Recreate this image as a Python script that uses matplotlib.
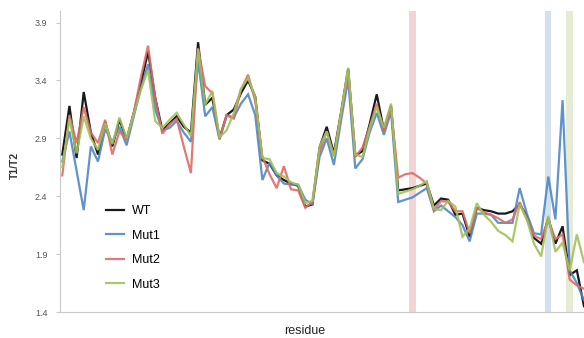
import numpy as np
import matplotlib
matplotlib.use('Agg')
import matplotlib.pyplot as plt

plt.rcParams['font.family'] = ['Liberation Sans', 'DejaVu Sans']

# T1/T2 per residue
wt = [2.76, 3.18, 2.73, 3.30, 2.95, 2.76, 3.04, 2.83, 3.06, 2.89,
      3.12, 3.37, 3.65, 3.25, 2.97, 3.03, 3.09, 3.00, 2.95, 3.73,
      3.19, 3.25, 2.90, 3.10, 3.15, 3.29, 3.40, 3.26, 2.71, 2.68,
      2.58, 2.54, 2.51, 2.49, 2.31, 2.33, 2.82, 3.00, 2.77, 3.12,
      3.50, 2.75, 2.79, 3.02, 3.28, 2.97, 3.18, 2.45, 2.46, 2.47,
      2.49, 2.51, 2.32, 2.38, 2.37, 2.24, 2.25, 2.05, 2.30, 2.28,
      2.27, 2.25, 2.25, 2.27, 2.33, 2.23, 2.04, 1.99, 2.21, 1.99,
      2.14, 1.72, 1.76, 1.45]
mut1 = [2.70, 2.96, 2.62, 2.28, 2.83, 2.70, 2.98, 2.87, 3.00, 2.84,
        3.09, 3.33, 3.54, 3.15, 2.97, 2.99, 3.05, 2.95, 2.87, 3.57,
        3.09, 3.17, 2.89, 3.10, 3.08, 3.20, 3.28, 3.10, 2.54, 2.69,
        2.58, 2.51, 2.50, 2.50, 2.37, 2.33, 2.74, 2.90, 2.67, 3.05,
        3.41, 2.64, 2.72, 2.95, 3.12, 2.93, 3.13, 2.35, 2.37, 2.39,
        2.43, 2.47, 2.27, 2.32, 2.27, 2.22, 2.15, 2.01, 2.25, 2.25,
        2.24, 2.17, 2.17, 2.17, 2.47, 2.25, 2.08, 2.07, 2.57, 2.20,
        3.23, 1.76, 1.65, 1.50]
mut2 = [2.58, 3.10, 2.86, 3.17, 2.95, 2.86, 3.06, 2.76, 2.96, 2.89,
        3.12, 3.43, 3.70, 3.25, 2.94, 3.02, 3.07, 2.83, 2.60, 3.68,
        3.35, 3.29, 2.90, 3.10, 3.07, 3.32, 3.45, 3.22, 2.74, 2.59,
        2.47, 2.66, 2.46, 2.45, 2.30, 2.35, 2.78, 2.96, 2.75, 3.10,
        3.48, 2.74, 2.82, 3.00, 3.20, 2.96, 3.16, 2.56, 2.59, 2.60,
        2.56, 2.51, 2.28, 2.36, 2.35, 2.27, 2.27, 2.08, 2.30, 2.26,
        2.24, 2.21, 2.17, 2.20, 2.35, 2.20, 2.06, 2.03, 2.20, 2.03,
        2.07, 1.68, 1.63, 1.60]
mut3 = [2.65, 3.07, 2.77, 3.09, 2.90, 2.80, 3.03, 2.85, 3.08, 2.90,
        3.11, 3.32, 3.49, 3.05, 2.99, 3.06, 3.12, 3.02, 2.92, 3.67,
        3.19, 3.31, 2.91, 2.97, 3.12, 3.33, 3.42, 3.26, 2.73, 2.72,
        2.60, 2.57, 2.52, 2.50, 2.34, 2.36, 2.83, 2.96, 2.74, 3.12,
        3.51, 2.76, 2.74, 2.98, 3.17, 2.99, 3.20, 2.42, 2.44, 2.46,
        2.49, 2.53, 2.29, 2.28, 2.36, 2.31, 2.05, 2.12, 2.34, 2.24,
        2.18, 2.10, 2.065, 2.01, 2.33, 2.20, 1.99, 1.88, 2.23, 1.92,
        2.00, 1.76, 2.07, 1.83]

series_names = ['WT', 'Mut1', 'Mut2', 'Mut3']
series_colors = ['#000000', '#4f86c6', '#de6b66', '#9fc25a']

# highlighted residues (index) and their band colours
highlight_idx = [49, 68, 71]
highlight_colors = ['#f3d3d3', '#d3e0f0', '#e6ebd6']

yticks = [1.4, 1.9, 2.4, 2.9, 3.4, 3.9]

residue = np.arange(len(wt))

fig = plt.figure(figsize=(5.84, 3.38), dpi=100, facecolor='white')
ax = fig.add_axes([60 / 584, 26 / 338, 524 / 584, 301 / 338])

for idx, c in zip(highlight_idx, highlight_colors):
    ax.axvspan(idx - 0.45, idx + 0.45, color=c, lw=0, zorder=0)

for name, vals, c in zip(series_names, [wt, mut1, mut2, mut3], series_colors):
    ax.plot(residue, vals, color=c, lw=1.6, label=name, alpha=0.9,
            solid_joinstyle='miter')

ax.set_xlim(-0.32, 73)
ax.set_ylim(1.4, 4.0)
ax.set_yticks(yticks)
ax.set_yticklabels(['%.1f' % v for v in yticks])
ax.set_xticks([])

for s in ['top', 'right']:
    ax.spines[s].set_visible(False)
for s in ['left', 'bottom']:
    ax.spines[s].set_color('#c8c8c8')
    ax.spines[s].set_linewidth(0.8)
ax.tick_params(axis='y', length=3, color='#c8c8c8', labelsize=6.5,
               labelcolor='#555555', pad=6)

fig.text(15 / 584, 1 - 165 / 338, 'T1/T2', rotation=90, ha='center', va='center',
         fontsize=7.5, color='#333333', fontweight='bold')
fig.text(305 / 584, 1 - 331 / 338, 'residue', ha='center', va='center',
         fontsize=9, color='#222222')

leg = ax.legend(loc='upper left', bbox_to_anchor=(0.088, 0.355), frameon=False,
                fontsize=9, handlelength=1.45, handletextpad=0.6,
                labelspacing=1.0, borderpad=0, borderaxespad=0)
for line in leg.get_lines():
    line.set_linewidth(1.6)

fig.savefig('out.png', dpi=100)
